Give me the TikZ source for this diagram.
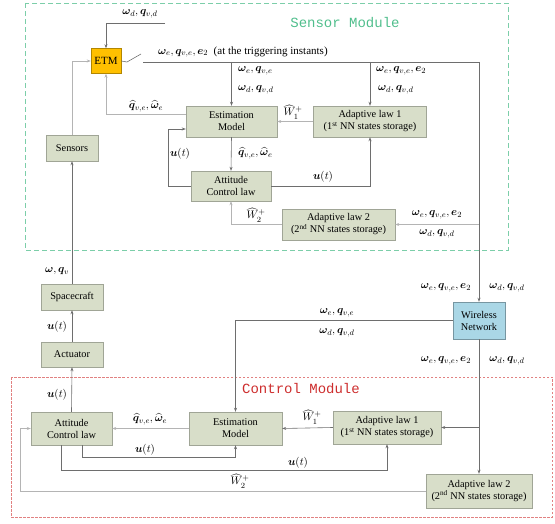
\documentclass[tikz,border=0pt]{standalone}
\usepackage{amsmath,amssymb,bm}
\usepackage{fontspec}
\setmainfont{Liberation Serif}
\setmonofont{Liberation Mono}
\usepackage{tikz}
\usetikzlibrary{arrows.meta,positioning,calc}

\definecolor{blkfill}{RGB}{216,222,201}
\definecolor{blkdraw}{RGB}{160,165,150}
\definecolor{etmfill}{RGB}{255,192,0}
\definecolor{netfill}{RGB}{170,215,230}
\definecolor{sensgreen}{RGB}{80,190,140}
\definecolor{ctrlred}{RGB}{205,45,45}
\definecolor{wire}{RGB}{110,110,110}
\definecolor{wirelt}{RGB}{180,180,180}

% signal labels
\newcommand{\errs}{\bm{\omega}_e,\bm{q}_{v,e}}
\newcommand{\errse}{\bm{\omega}_e,\bm{q}_{v,e},\bm{e}_2}
\newcommand{\dess}{\bm{\omega}_d,\bm{q}_{v,d}}
\newcommand{\ests}{\widehat{\bm{q}}_{v,e},\widehat{\bm{\omega}}_e}

\begin{document}
\begin{tikzpicture}[
    x=1pt, y=-1pt,
    blk/.style={rectangle, draw=blkdraw, fill=blkfill, align=center, inner sep=1pt, font=\fontsize{10.3}{12}\selectfont},
    arr/.style={-{Stealth[length=4pt,width=3pt]}, draw=wire, line width=0.6pt},
    arrlt/.style={arr, draw=wirelt},
    wln/.style={draw=wire, line width=0.6pt},
    lab/.style={inner sep=1pt, font=\fontsize{11}{13}\selectfont},
    title/.style={font=\ttfamily\fontsize{14}{16}\selectfont},
]
\useasboundingbox (0,0) rectangle (555,524);

% Module frames
\draw[sensgreen!75, line width=0.6pt, dash pattern=on 5pt off 3pt] (25,3) rectangle (508,250);
\draw[ctrlred!60, line width=0.5pt, dash pattern=on 2.5pt off 1.5pt] (11,377) rectangle (552,517);
\node[title, text=sensgreen] (senstitle) at (345,23) {Sensor Module};
\node[title, text=ctrlred] (ctrltitle) at (301,389) {Control Module};

% Sensor side blocks
\node[blk, fill=etmfill, draw=etmfill!70!black, minimum width=30pt, minimum height=25pt, font=\fontsize{11}{13}\selectfont] (etm) at (106,61) {ETM};
\node[blk, minimum width=91pt, minimum height=31pt] (sEM) at (231.5,121.5) {Estimation\\Model};
\node[blk, minimum width=113pt, minimum height=31pt] (sAL1) at (370,121.5) {Adaptive law 1\\(1\textsuperscript{st} NN states storage)};
\node[blk, minimum width=52pt, minimum height=26pt] (sens) at (72,148) {Sensors};
\node[blk, minimum width=80pt, minimum height=30pt] (sACL) at (231,186) {Attitude\\Control law};
\node[blk, minimum width=113pt, minimum height=31pt] (sAL2) at (338.5,224.5) {Adaptive law 2\\(2\textsuperscript{nd} NN states storage)};

% Plant and network
\node[blk, fill=netfill, draw=netfill!70!black, minimum width=52pt, minimum height=37pt] (wn) at (479,320.5) {Wireless\\Network};
\node[blk, minimum width=62pt, minimum height=26pt] (sc) at (72,297) {Spacecraft};
\node[blk, minimum width=62pt, minimum height=25pt] (act) at (72,354.5) {Actuator};

% Controller side blocks
\node[blk, minimum width=81pt, minimum height=33pt] (cACL) at (71.5,428.5) {Attitude\\Control law};
\node[blk, minimum width=93pt, minimum height=33pt] (cEM) at (235.5,428.5) {Estimation\\Model};
\node[blk, minimum width=108pt, minimum height=33pt] (cAL1) at (387,427.5) {Adaptive law 1\\(1\textsuperscript{st} NN states storage)};
\node[blk, minimum width=106pt, minimum height=34pt] (cAL2) at (479,491) {Adaptive law 2\\(2\textsuperscript{nd} NN states storage)};

% Junction points
\coordinate (din) at (165,23);
\coordinate (swA) at (127,62);
\coordinate (swB) at (141,54);
\coordinate (swC) at (143,62);
\coordinate (trig) at (479,62);
\coordinate (uloop) at (168,129);
\coordinate (uc1) at (82,457);
\coordinate (uc2) at (61,470);
\coordinate (wc) at (20,491);

% Sensor module connections
\draw[arr] (din) -| (etm.north);
\draw[arrlt] (sens.north) |- (etm.west);
\draw[wln] (etm.east) -- (swA) -- (swB);
\draw[wln] (swC) -- (trig);
\draw[arrlt] ([yshift=7.5pt]sEM.west) -| (etm.south);
\draw[arr] (sEM.north |- trig) -- (sEM.north);
\draw[arr] (sAL1.north |- trig) -- (sAL1.north);
\draw[arrlt] (sAL1.west) -- (sEM.east);
\draw[arr] (sEM.south) -- (sACL.north);
\draw[arr] (sACL.west) -| (uloop) -- (uloop -| sEM.west);
\draw[arr] (sACL.east) -| (sAL1.south);
\draw[arrlt] (trig |- sAL2.east) -- (sAL2.east);
\draw[arrlt] (sAL2.west) -| (sACL.south);
\draw[arr] (trig) -- (wn.north);

% Plant loop
\draw[arr] (sc.north) -- (sens.south);
\draw[arr] (act.north) -- (sc.south);
\draw[arr] (cACL.north) -- (act.south);

% Control module connections
\draw[arr] (wn.west) -| (cEM.north);
\draw[arr] (wn.south) -- (cAL2.north);
\draw[arr] (wn.south |- cAL1.east) -- (cAL1.east);
\draw[arr] (cAL1.west) -- (cEM.east);
\draw[arrlt] (cEM.west) -- (cACL.east);
\draw[arr] (uc1 |- cACL.south) -- (uc1) -| (cEM.south);
\draw[arr] (uc2 |- cACL.south) -- (uc2) -| (cAL1.south);
\draw[arrlt] (cAL2.west) -- (wc) |- (cACL.west);

% Signal labels (sensor module)
\node[lab] (l1) at (140,14) {$\dess$};
\node[lab, anchor=west] (l2) at (157,52) {$\errse$\ \ (at the triggering instants)};
\node[lab, anchor=west] (l3) at (237,71) {$\errs$};
\node[lab, anchor=west] (l4) at (237,90) {$\dess$};
\node[lab, anchor=west] (l5) at (375,71) {$\errse$};
\node[lab, anchor=west] (l6) at (377,90) {$\dess$};
\node[lab] (l7) at (146,106) {$\ests$};
\node[lab] (l8) at (293,112) {$\widehat{W}_1^+$};
\node[lab] (l9) at (180,154) {$\bm{u}(t)$};
\node[lab, anchor=west] (l10) at (237,153) {$\ests$};
\node[lab] (l11) at (323,177) {$\bm{u}(t)$};
\node[lab] (l12) at (256,215) {$\widehat{W}_2^+$};
\node[lab] (l13) at (437,215) {$\errse$};
\node[lab] (l14) at (437,234) {$\dess$};

% Signal labels (plant and network)
\node[lab] (l15) at (57,271) {$\bm{\omega},\bm{q}_v$};
\node[lab] (l16) at (57,327) {$\bm{u}(t)$};
\node[lab] (l17) at (57,395) {$\bm{u}(t)$};
\node[lab] (l18) at (446,288) {$\errse$};
\node[lab] (l19) at (507,288) {$\dess$};
\node[lab] (l20) at (337,313) {$\errs$};
\node[lab] (l21) at (337,333) {$\dess$};
\node[lab] (l22) at (446,361) {$\errse$};
\node[lab] (l23) at (507,361) {$\dess$};

% Signal labels (control module)
\node[lab] (l24) at (150,419) {$\ests$};
\node[lab] (l25) at (312,417) {$\widehat{W}_1^+$};
\node[lab] (l26) at (145,450) {$\bm{u}(t)$};
\node[lab] (l27) at (298,463) {$\bm{u}(t)$};
\node[lab] (l28) at (240,481) {$\widehat{W}_2^+$};

\end{tikzpicture}
\end{document}
